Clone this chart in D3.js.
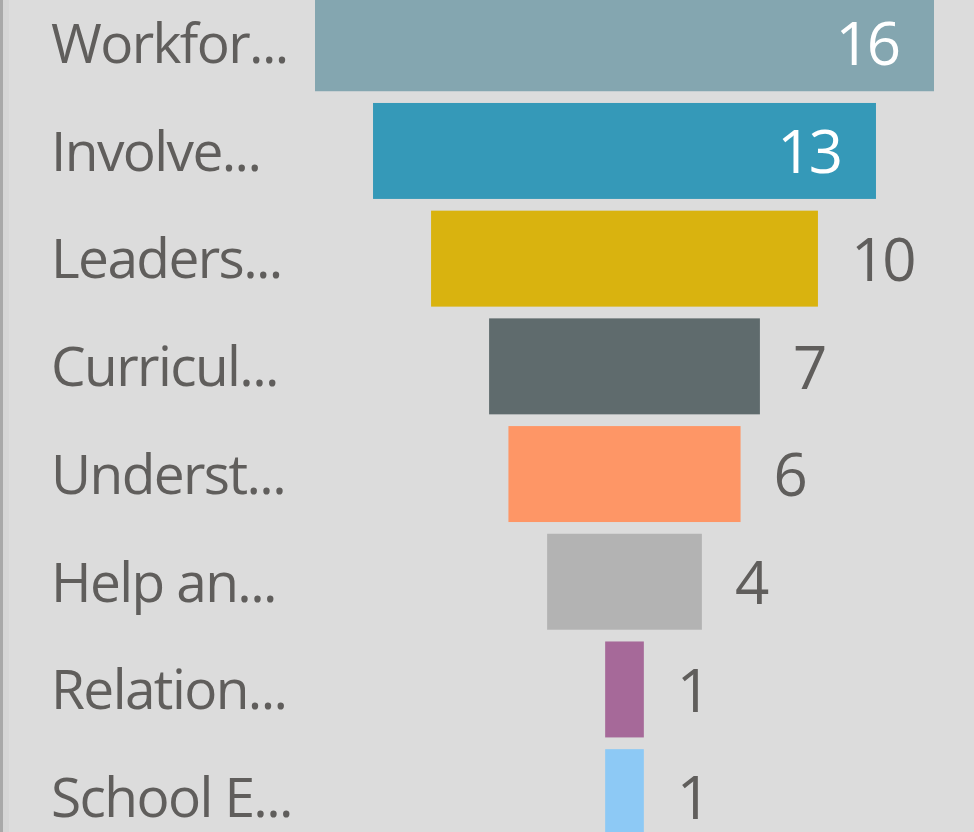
<!DOCTYPE html>
<html>
<head>
<meta charset="utf-8">
<script src="https://cdn.jsdelivr.net/npm/d3@7"></script>
<style>
  html, body { margin: 0; padding: 0; background: #dcdcdc; overflow: hidden; }
  svg { display: block; }
</style>
</head>
<body>
<div id="chart"></div>
<script>
const categories = ["Workfor...", "Involve...", "Leaders...", "Curricul...", "Underst...", "Help an...", "Relation...", "School E..."];
const values = [16, 13, 10, 7, 6, 4, 1, 1];
const colors = ["#84a6b0", "#3599b8", "#d9b30f", "#5f6b6d", "#fe9666", "#b3b3b3", "#a66999", "#8dc9f5"];

const W = 974, H = 832;
const centerX = 624.5;

const svg = d3.select("#chart").append("svg")
  .attr("width", W)
  .attr("height", H);

svg.append("rect").attr("width", W).attr("height", H).attr("fill", "#dcdcdc");
// left edge of the visual container
svg.append("rect").attr("x", 0).attr("y", 0).attr("width", 3).attr("height", H).attr("fill", "#a9a9a9");
svg.append("rect").attr("x", 3).attr("y", 0).attr("width", 6).attr("height", H).attr("fill", "#d6d6d6");

const y = d3.scaleBand()
  .domain(categories)
  .range([-10.6, 851])
  .paddingInner(0.109)
  .paddingOuter(0.0545);

const w = d3.scaleLinear()
  .domain([0, d3.max(values)])
  .range([0, 619]);

const data = categories.map((c, i) => ({ cat: c, value: values[i], color: colors[i] }));

svg.selectAll("rect.bar")
  .data(data)
  .enter().append("rect")
  .attr("class", "bar")
  .attr("x", d => centerX - w(d.value) / 2)
  .attr("y", d => y(d.cat))
  .attr("width", d => w(d.value))
  .attr("height", y.bandwidth())
  .attr("fill", d => d.color);

svg.selectAll("text.cat")
  .data(data)
  .enter().append("text")
  .attr("class", "cat")
  .attr("x", 51)
  .attr("y", d => y(d.cat) + y.bandwidth() / 2)
  .attr("dy", "0.36em")
  .attr("font-family", "'Open Sans', sans-serif")
  .attr("font-size", 55)
  .attr("letter-spacing", -1.6)
  .attr("fill", "#605e5c")
  .text(d => d.cat);

// value labels: inside the bar when it is wide enough, otherwise to the right
svg.selectAll("text.val")
  .data(data)
  .enter().append("text")
  .attr("class", "val")
  .attr("x", d => d.value >= 13 ? centerX + w(d.value) / 2 - 36 : centerX + w(d.value) / 2 + 33)
  .attr("y", d => y(d.cat) + y.bandwidth() / 2)
  .attr("dy", "0.37em")
  .attr("text-anchor", d => d.value >= 13 ? "end" : "start")
  .attr("font-family", "'Open Sans', sans-serif")
  .attr("font-size", 60)
  .attr("letter-spacing", -3)
  .attr("fill", d => d.value >= 13 ? "#ffffff" : "#605e5c")
  .text(d => d.value);
</script>
</body>
</html>
